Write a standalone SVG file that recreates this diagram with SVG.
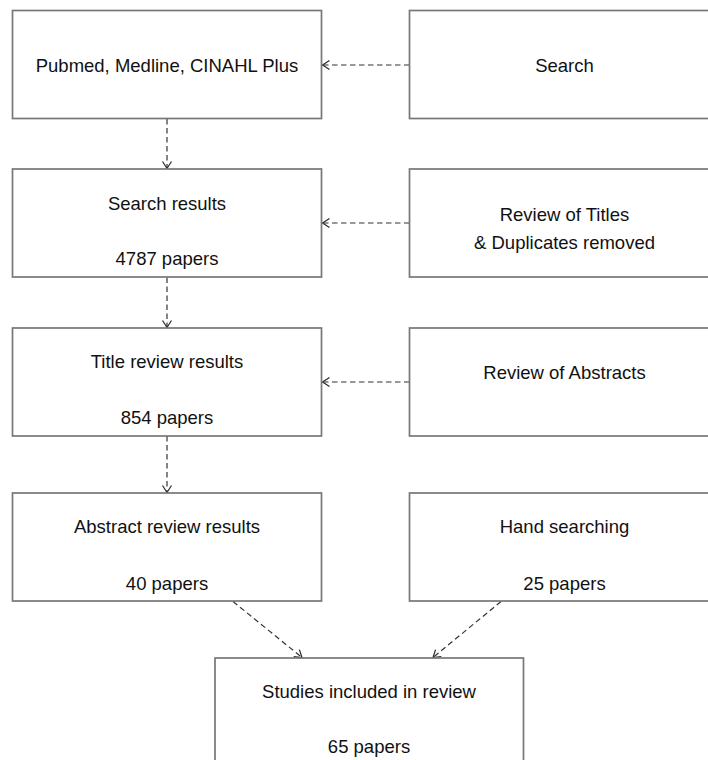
<svg xmlns="http://www.w3.org/2000/svg" width="708" height="760" viewBox="0 0 708 760">
<defs>
<marker id="arr" markerUnits="userSpaceOnUse" markerWidth="12" markerHeight="12" refX="8" refY="5" orient="auto">
<path d="M1,0.5 L8,5 L1,9.5" fill="none" stroke="#2a2a2a" stroke-width="1.2"/>
</marker>
</defs>
<style>
.box{fill:#fff;stroke:#777;stroke-width:1.7}
.t{font-family:"Liberation Sans",Arial,sans-serif;font-size:18.5px;fill:#111;text-anchor:middle}
.c{fill:none;stroke:#333;stroke-width:1.2;stroke-dasharray:5.5 3.5;marker-end:url(#arr)}
</style>
<rect width="708" height="760" fill="#fff"/>
<g id="connectors">
<line class="c" x1="409.5" y1="65" x2="322.5" y2="65"/>
<line class="c" x1="409.5" y1="223" x2="322.5" y2="223"/>
<line class="c" x1="409.5" y1="382" x2="322.5" y2="382"/>
<line class="c" x1="167" y1="119" x2="167" y2="168.5"/>
<line class="c" x1="167" y1="277.5" x2="167" y2="327.5"/>
<line class="c" x1="167" y1="436" x2="167" y2="492.5"/>
<line class="c" x1="233" y1="601.5" x2="302" y2="657.5"/>
<line class="c" x1="501" y1="601.5" x2="433" y2="657.5"/>
</g>
<g id="n1">
<rect class="box" x="12.5" y="10.5" width="309" height="108"/>
<text class="t" x="167" y="71.5">Pubmed, Medline, CINAHL Plus</text>
</g>
<g id="n2">
<rect class="box" x="409.5" y="10.5" width="310" height="108"/>
<text class="t" x="564.5" y="72">Search</text>
</g>
<g id="n3">
<rect class="box" x="12.5" y="169" width="309" height="108"/>
<text class="t" x="167" y="210">Search results</text>
<text class="t" x="167" y="265">4787 papers</text>
</g>
<g id="n4">
<rect class="box" x="409.5" y="169" width="310" height="108"/>
<text class="t" x="564.5" y="220.5">Review of Titles</text>
<text class="t" x="564.5" y="249">&amp; Duplicates removed</text>
</g>
<g id="n5">
<rect class="box" x="12.5" y="328" width="309" height="108"/>
<text class="t" x="167" y="368">Title review results</text>
<text class="t" x="167" y="424">854 papers</text>
</g>
<g id="n6">
<rect class="box" x="409.5" y="328" width="310" height="108"/>
<text class="t" x="564.5" y="378.5">Review of Abstracts</text>
</g>
<g id="n7">
<rect class="box" x="12.5" y="493" width="309" height="108"/>
<text class="t" x="167" y="533">Abstract review results</text>
<text class="t" x="167" y="590">40 papers</text>
</g>
<g id="n8">
<rect class="box" x="409.5" y="493" width="310" height="108"/>
<text class="t" x="564.5" y="533">Hand searching</text>
<text class="t" x="564.5" y="590">25 papers</text>
</g>
<g id="n9">
<rect class="box" x="215" y="658" width="308.5" height="120"/>
<text class="t" x="369" y="698">Studies included in review</text>
<text class="t" x="369" y="753">65 papers</text>
</g>
</svg>
